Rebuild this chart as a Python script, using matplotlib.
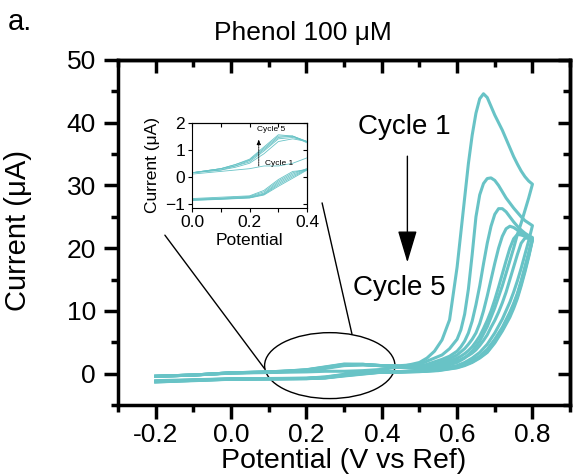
import matplotlib
matplotlib.use('Agg')
import matplotlib.pyplot as plt
from matplotlib.patches import Ellipse, ConnectionPatch
from matplotlib.ticker import MultipleLocator

plt.rcParams['font.family'] = ['Liberation Sans', 'DejaVu Sans']

# potentials (V vs Ref) for the anodic and cathodic sweeps
E_fwd = [-0.2, -0.1, 0.0, 0.1, 0.15, 0.2, 0.25, 0.3, 0.35, 0.4, 0.45,
         0.5, 0.52, 0.54, 0.56, 0.58,
         0.60, 0.61, 0.62, 0.63, 0.64, 0.65, 0.66, 0.67, 0.68, 0.69, 0.70,
         0.71, 0.72, 0.73, 0.74, 0.75, 0.76, 0.77, 0.78, 0.79, 0.80]
E_rev = [0.80, 0.79, 0.78, 0.77, 0.76, 0.75, 0.74, 0.72, 0.70, 0.68, 0.66,
         0.64, 0.62, 0.60, 0.55, 0.50, 0.45, 0.40, 0.35, 0.30, 0.25, 0.20,
         0.10, 0.0, -0.1, -0.2]

# current (uA), one list per cycle
I_fwd_1 = [-0.4, -0.2, 0.1, 0.2, 0.25, 0.3, 0.4, 0.4, 0.5, 0.7, 1.1,
           1.8, 2.5, 3.6, 5.4, 8.6,
           17.0, 22.5, 28.0, 33.5, 38.0, 41.5, 43.8, 44.6, 44.0, 42.6, 41.2,
           40.0, 38.8, 37.4, 36.0, 34.6, 33.4, 32.3, 31.4, 30.7, 30.2]
I_fwd_2 = [-0.4, -0.2, 0.15, 0.25, 0.35, 0.5, 0.85, 1.3, 1.4, 1.3, 1.3,
           1.5, 2.0, 2.5, 3.0, 4.0,
           5.5, 7.0, 9.5, 13.5, 19.0, 25.0, 28.5, 30.3, 31.1, 31.2, 30.8,
           30.0, 29.0, 28.0, 27.2, 26.4, 25.7, 25.0, 24.4, 24.0, 23.6]
I_fwd_3 = [-0.4, -0.2, 0.15, 0.25, 0.4, 0.55, 0.95, 1.4, 1.45, 1.3, 1.2,
           1.2, 1.5, 1.9, 2.3, 2.8,
           3.6, 4.3, 5.2, 6.5, 8.4, 11.0, 14.0, 17.5, 20.8, 23.5, 25.4,
           26.3, 26.3, 25.8, 25.0, 24.2, 23.5, 22.9, 22.4, 22.0, 21.7]
I_fwd_4 = [-0.4, -0.2, 0.15, 0.3, 0.4, 0.6, 1.0, 1.45, 1.5, 1.3, 1.1,
           1.0, 1.2, 1.5, 1.9, 2.4,
           3.0, 3.5, 4.0, 4.7, 5.5, 6.5, 8.0, 10.0, 12.4, 15.0, 17.6,
           20.0, 21.9, 23.1, 23.5, 23.3, 22.9, 22.4, 22.0, 21.7, 21.5]
I_fwd_5 = [-0.4, -0.2, 0.15, 0.3, 0.45, 0.62, 1.05, 1.5, 1.5, 1.3, 1.05,
           0.9, 1.1, 1.3, 1.6, 2.0,
           2.5, 2.8, 3.2, 3.7, 4.3, 5.1, 6.0, 7.2, 8.5, 10.0, 11.8,
           13.8, 15.9, 18.0, 20.0, 21.5, 22.2, 22.1, 21.9, 21.6, 21.4]
I_fwd_6 = [-0.4, -0.2, 0.15, 0.3, 0.45, 0.65, 1.1, 1.55, 1.5, 1.25, 1.0,
           0.8, 1.0, 1.2, 1.4, 1.7,
           2.1, 2.3, 2.6, 2.9, 3.3, 3.8, 4.5, 5.3, 6.2, 7.4, 8.5,
           9.8, 11.3, 13.0, 15.0, 17.0, 19.0, 20.8, 21.6, 21.6, 21.3]

I_rev_1 = [30.2, 28.0, 26.0, 24.0, 22.2, 20.0, 18.0, 14.0, 10.5, 7.5, 5.2,
           3.6, 2.5, 1.8, 0.9, 0.5, 0.3, 0.25, 0.2, -0.1, -0.5, -0.7,
           -0.75, -0.8, -0.95, -1.1]
I_rev_2 = [23.6, 21.2, 19.0, 16.8, 14.8, 13.0, 11.4, 8.7, 6.5, 4.7, 3.4,
           2.5, 1.8, 1.3, 0.7, 0.45, 0.35, 0.3, 0.15, -0.15, -0.55, -0.72,
           -0.78, -0.82, -1.0, -1.2]
I_rev_3 = [21.7, 19.3, 17.0, 14.8, 12.8, 11.2, 9.8, 7.4, 5.5, 3.9, 2.8,
           2.1, 1.6, 1.2, 0.65, 0.4, 0.32, 0.3, 0.1, -0.2, -0.6, -0.74,
           -0.8, -0.84, -1.0, -1.2]
I_rev_4 = [21.5, 19.0, 16.8, 14.6, 12.6, 11.0, 9.6, 7.2, 5.3, 3.7, 2.7,
           2.0, 1.5, 1.1, 0.6, 0.38, 0.3, 0.28, 0.05, -0.25, -0.63, -0.76,
           -0.8, -0.85, -1.05, -1.25]
I_rev_5 = [21.4, 18.8, 16.5, 14.3, 12.3, 10.7, 9.3, 7.0, 5.1, 3.5, 2.6,
           1.9, 1.4, 1.0, 0.55, 0.36, 0.3, 0.27, 0.0, -0.3, -0.65, -0.77,
           -0.82, -0.86, -1.05, -1.3]
I_rev_6 = [21.3, 18.6, 16.2, 14.0, 12.0, 10.4, 9.0, 6.8, 4.9, 3.4, 2.5,
           1.8, 1.3, 0.95, 0.5, 0.34, 0.28, 0.25, -0.05, -0.35, -0.67, -0.78,
           -0.83, -0.87, -1.1, -1.3]

fwd = [I_fwd_1, I_fwd_2, I_fwd_3, I_fwd_4, I_fwd_5, I_fwd_6]
rev = [I_rev_1, I_rev_2, I_rev_3, I_rev_4, I_rev_5, I_rev_6]

COLOR = '#68c3c6'

fig = plt.figure(figsize=(5.73, 4.75), dpi=100)
ax = fig.add_axes([0.206, 0.147, 0.789, 0.727])

for f, r in zip(fwd, rev):
    ax.plot(E_fwd + E_rev, f + r, color=COLOR, lw=2.2, solid_joinstyle='round')

ax.set_xlim(-0.3, 0.9)
ax.set_ylim(-5, 50)
ax.xaxis.set_major_locator(MultipleLocator(0.2))
ax.xaxis.set_minor_locator(MultipleLocator(0.1))
ax.yaxis.set_major_locator(MultipleLocator(10))
ax.yaxis.set_minor_locator(MultipleLocator(5))
ax.tick_params(which='major', direction='out', length=10, width=2.5, labelsize=19)
ax.tick_params(which='minor', direction='out', length=5, width=2.5)
ax.tick_params(axis='x', pad=3)
ax.tick_params(axis='y', pad=6)
ax.set_xticklabels([f'{v:.1f}' if v < 0.85 else '' for v in ax.get_xticks()])
for s in ax.spines.values():
    s.set_linewidth(2.5)

# top / right ticks point inward
top = ax.secondary_xaxis('top')
top.xaxis.set_major_locator(MultipleLocator(0.2))
top.xaxis.set_minor_locator(MultipleLocator(0.1))
top.tick_params(which='major', direction='in', length=9, width=2.5, labeltop=False)
top.tick_params(which='minor', direction='in', length=5, width=2.5)
right = ax.secondary_yaxis('right')
right.yaxis.set_major_locator(MultipleLocator(10))
right.yaxis.set_minor_locator(MultipleLocator(5))
right.tick_params(which='major', direction='in', length=9, width=2.5, labelright=False)
right.tick_params(which='minor', direction='in', length=5, width=2.5)
for sec in (top, right):
    for s in sec.spines.values():
        s.set_linewidth(2.5)

ax.set_xlabel('Potential (V vs Ref)', fontsize=20.5)
ax.set_ylabel('Current (\u03bcA)', fontsize=21)
ax.xaxis.set_label_coords(0.5, -0.125)
ax.yaxis.set_label_coords(-0.19, 0.507)

fig.text(303 / 573, 1 - 33 / 475, 'Phenol 100 \u03bcM', ha='center', va='center', fontsize=19)
fig.text(8 / 573, 1 - 22 / 475, 'a.', ha='left', va='center', fontsize=21)

ax.annotate('', xy=(0.468, 17.3), xytext=(0.468, 35.1),
            arrowprops=dict(arrowstyle='-|>,head_length=1.0,head_width=0.3',
                            color='black', lw=1, mutation_scale=20))
ax.text(0.46, 39.3, 'Cycle 1', ha='center', va='center', fontsize=20)
ax.text(0.446, 13.6, 'Cycle 5', ha='center', va='center', fontsize=20)

ell = Ellipse((0.262, 1.3), width=0.346, height=10.5, fill=False, ec='black', lw=1)
ax.add_patch(ell)

# inset zoom on the low-potential region
axin = fig.add_axes([0.335, 0.562, 0.201, 0.180])
for f, r in zip(fwd, rev):
    axin.plot(E_fwd + E_rev, f + r, color=COLOR, lw=0.6)
axin.set_xlim(0, 0.4)
axin.set_ylim(-1.15, 2)
axin.xaxis.set_major_locator(MultipleLocator(0.2))
axin.xaxis.set_minor_locator(MultipleLocator(0.1))
axin.yaxis.set_major_locator(MultipleLocator(1))
axin.tick_params(which='both', direction='out', length=3, width=0.8, labelsize=12.5, pad=2)
for s in axin.spines.values():
    s.set_linewidth(0.8)
itop = axin.secondary_xaxis('top')
itop.xaxis.set_major_locator(MultipleLocator(0.1))
itop.tick_params(direction='in', length=3, width=0.8, labeltop=False)
iright = axin.secondary_yaxis('right')
iright.yaxis.set_major_locator(MultipleLocator(1))
iright.tick_params(direction='in', length=3, width=0.8, labelright=False)
for sec in (itop, iright):
    for s in sec.spines.values():
        s.set_linewidth(0.8)
axin.set_xlabel('Potential', fontsize=12.5, labelpad=2)
axin.set_ylabel('Current (\u03bcA)', fontsize=12.5, labelpad=4)

axin.annotate('', xy=(0.232, 1.48), xytext=(0.232, 0.3),
              arrowprops=dict(arrowstyle='-|>,head_length=0.5,head_width=0.2',
                              color='black', lw=0.6, ls=(0, (2, 1)), mutation_scale=6))
axin.text(0.275, 1.76, 'Cycle 5', ha='center', va='center', fontsize=6)
axin.text(0.304, 0.49, 'Cycle 1', ha='center', va='center', fontsize=6)

# connector lines from inset to ellipse
for xyA, xyB in [((-0.235, -0.317), (0.089, 0.8)), ((1.13, 0.06), (0.321, 6.3))]:
    con = ConnectionPatch(xyA=xyA, coordsA=axin.transAxes, xyB=xyB, coordsB=ax.transData,
                          color='black', lw=1)
    fig.add_artist(con)

fig.savefig('out.png', dpi=100)
